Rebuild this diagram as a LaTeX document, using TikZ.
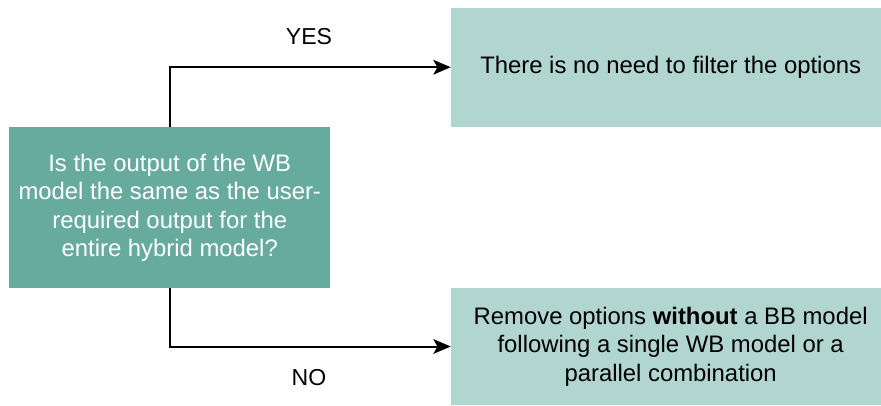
\documentclass[tikz,border=0pt]{standalone}
\usepackage{fontspec}
\setmainfont{Liberation Sans}
\usetikzlibrary{arrows.meta,positioning}

\definecolor{darkteal}{HTML}{67AB9F}
\definecolor{lightteal}{HTML}{B1D5CF}

\tikzset{
  box/.style={rectangle, draw=none, inner sep=0pt, align=center,
    font=\fontsize{17.9}{21.3}\selectfont},
  question/.style={box, fill=darkteal, text=white,
    minimum width=240.4pt, minimum height=120.4pt},
  outcome/.style={box, fill=lightteal, text=black, minimum width=322.5pt},
  flow/.style={line width=1.5pt, -{Stealth[length=13pt, width=11pt, inset=3pt]}},
  answer/.style={font=\fontsize{17.3}{20}\selectfont, inner sep=0pt}
}

\begin{document}
\begin{tikzpicture}[x=0.75pt, y=-0.75pt]
  \useasboundingbox (0,0) rectangle (881,405);

  % decision box
  \node[question] (q) at (169.75,207.75)
    {Is the output of the WB\\ model the same as the user-\\ required output for the\\ entire hybrid model?};

  % outcome boxes
  \node[outcome, minimum height=89.6pt] (yes) at (666,67.25)
    {\hspace*{7pt}There is no need to filter the options};
  \node[outcome, minimum height=87.75pt] (no) at (666,346.5)
    {\hspace*{7pt}Remove options \textbf{without} a BB model\\ \hspace*{7pt}following a single WB model or a\\ \hspace*{7pt}parallel combination};

  % branches
  \draw[flow] (q.north) |- (yes.west);
  \draw[flow] (q.south) |- (no.west);

  % branch labels
  \node[answer] (yeslabel) at (309,37) {YES};
  \node[answer] (nolabel) at (309,378) {NO};
\end{tikzpicture}
\end{document}
